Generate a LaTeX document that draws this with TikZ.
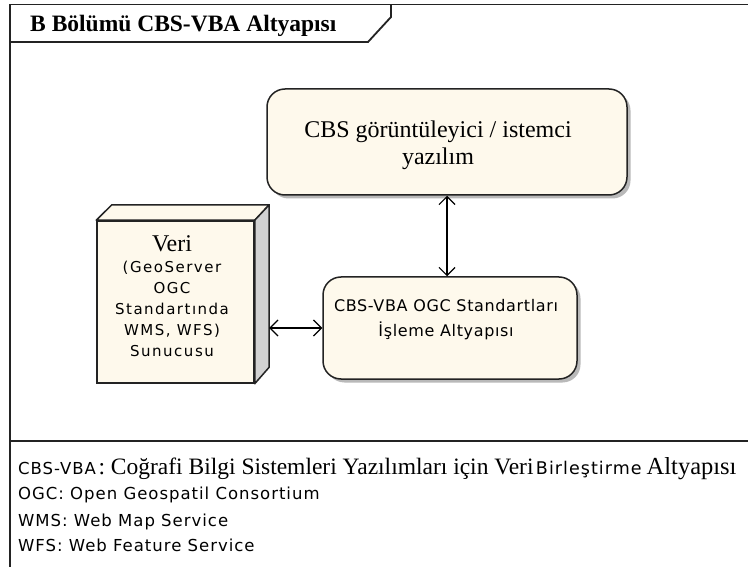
\documentclass[tikz,border=0pt]{standalone}
\usepackage{fontspec}
\setmainfont{Liberation Serif}
\newfontfamily\sansA[LetterSpace=6]{DejaVu Sans}
\newfontfamily\sansC[LetterSpace=4]{DejaVu Sans}
\newfontfamily\sansB[LetterSpace=10]{DejaVu Sans}
\usetikzlibrary{arrows.meta,shadows}
\definecolor{cream}{RGB}{254,249,236}
\definecolor{frameline}{RGB}{35,35,35}
\definecolor{sideface}{RGB}{210,210,210}
\begin{document}
\begin{tikzpicture}[x=1pt,y=-1pt,
  frame/.style={draw=frameline,line width=1.8pt},
  rbox/.style={draw=frameline,line width=1.5pt,fill=cream,rounded corners=18pt,inner sep=0pt,
    drop shadow={shadow xshift=3.5pt,shadow yshift=-3.5pt,fill=gray!55,opacity=1}},
  facebox/.style={draw=frameline,line width=1.5pt,fill=cream,inner sep=0pt},
  txt/.style={inner sep=0pt,align=center},
  legend/.style={inner sep=0pt,anchor=base west},
  arr/.style={draw=black,line width=1.2pt,{Straight Barb[length=8pt,width=16pt]}-{Straight Barb[length=8pt,width=16pt]}},
]
\useasboundingbox[fill=white] (0,0) rectangle (748,567);

% frame
\draw[frame] (10,567) -- (10,4.5) -- (748,4.5);
\draw[frame] (10,42) -- (368,42) -- (391,17) -- (391,4.5);
\draw[frame] (10,441) -- (748,441);
\node[legend,font=\bfseries\fontsize{23.5}{26}\selectfont] (title) at (30,32) {B Bölümü CBS-VBA Altyapısı};

% top node
\node[rbox,minimum width=360pt,minimum height=106pt] (client) at (447,142) {};
\node[txt,font=\fontsize{24}{27}\selectfont] (clienttext) at (438,145) {CBS görüntüleyici / istemci\\yazılım};

% processing node
\node[rbox,minimum width=254pt,minimum height=102pt] (proc) at (450,328) {};
\node[txt,font=\sansC\fontsize{16}{25}\selectfont] (proctext) at (446,320) {CBS-VBA OGC Standartları\\İşleme Altyapısı};

% 3D data box
\node[inner sep=0pt,minimum width=157pt,minimum height=162pt] (vback) at (190.5,286) {};
\node[facebox,minimum width=157pt,minimum height=162pt] (veri) at (175.5,302) {};
\filldraw[draw=frameline,line width=1.5pt,fill=cream,line join=round]
  (veri.north west) -- (vback.north west) -- (vback.north east) -- (veri.north east) -- cycle;
\filldraw[draw=frameline,line width=1.5pt,fill=sideface,line join=round]
  (veri.north east) -- (vback.north east) -- (vback.south east) -- (veri.south east) -- cycle;
\node[txt,font=\sansB\fontsize{15}{21}\selectfont] (veritext) at (172,296)
  {{\rmfamily\fontsize{24}{21}\selectfont Veri}\\(GeoServer\\OGC\\Standartında\\WMS, WFS)\\Sunucusu};

% connectors
\draw[arr] (client.south) -- (client.south |- proc.north);
\draw[arr] (proc.west -| vback.east) -- (proc.west);

% legend
\node[legend] (leg1) at (18,474) {{\sansA\fontsize{16.5}{20}\selectfont CBS-VBA}\ {\fontsize{23.5}{26}\selectfont: Coğrafi Bilgi Sistemleri Yazılımları için Veri} {\sansA\fontsize{17.5}{20}\selectfont Birleştirme}\ \ {\fontsize{24.5}{26}\selectfont Altyapısı}};
\node[legend,font=\sansA\fontsize{16.5}{20}\selectfont] (leg2) at (18,499) {OGC: Open Geospatil Consortium};
\node[legend,font=\sansA\fontsize{16.5}{20}\selectfont] (leg3) at (18,526) {WMS: Web Map Service};
\node[legend,font=\sansA\fontsize{16.5}{20}\selectfont] (leg4) at (18,551) {WFS: Web Feature Service};
\end{tikzpicture}
\end{document}
